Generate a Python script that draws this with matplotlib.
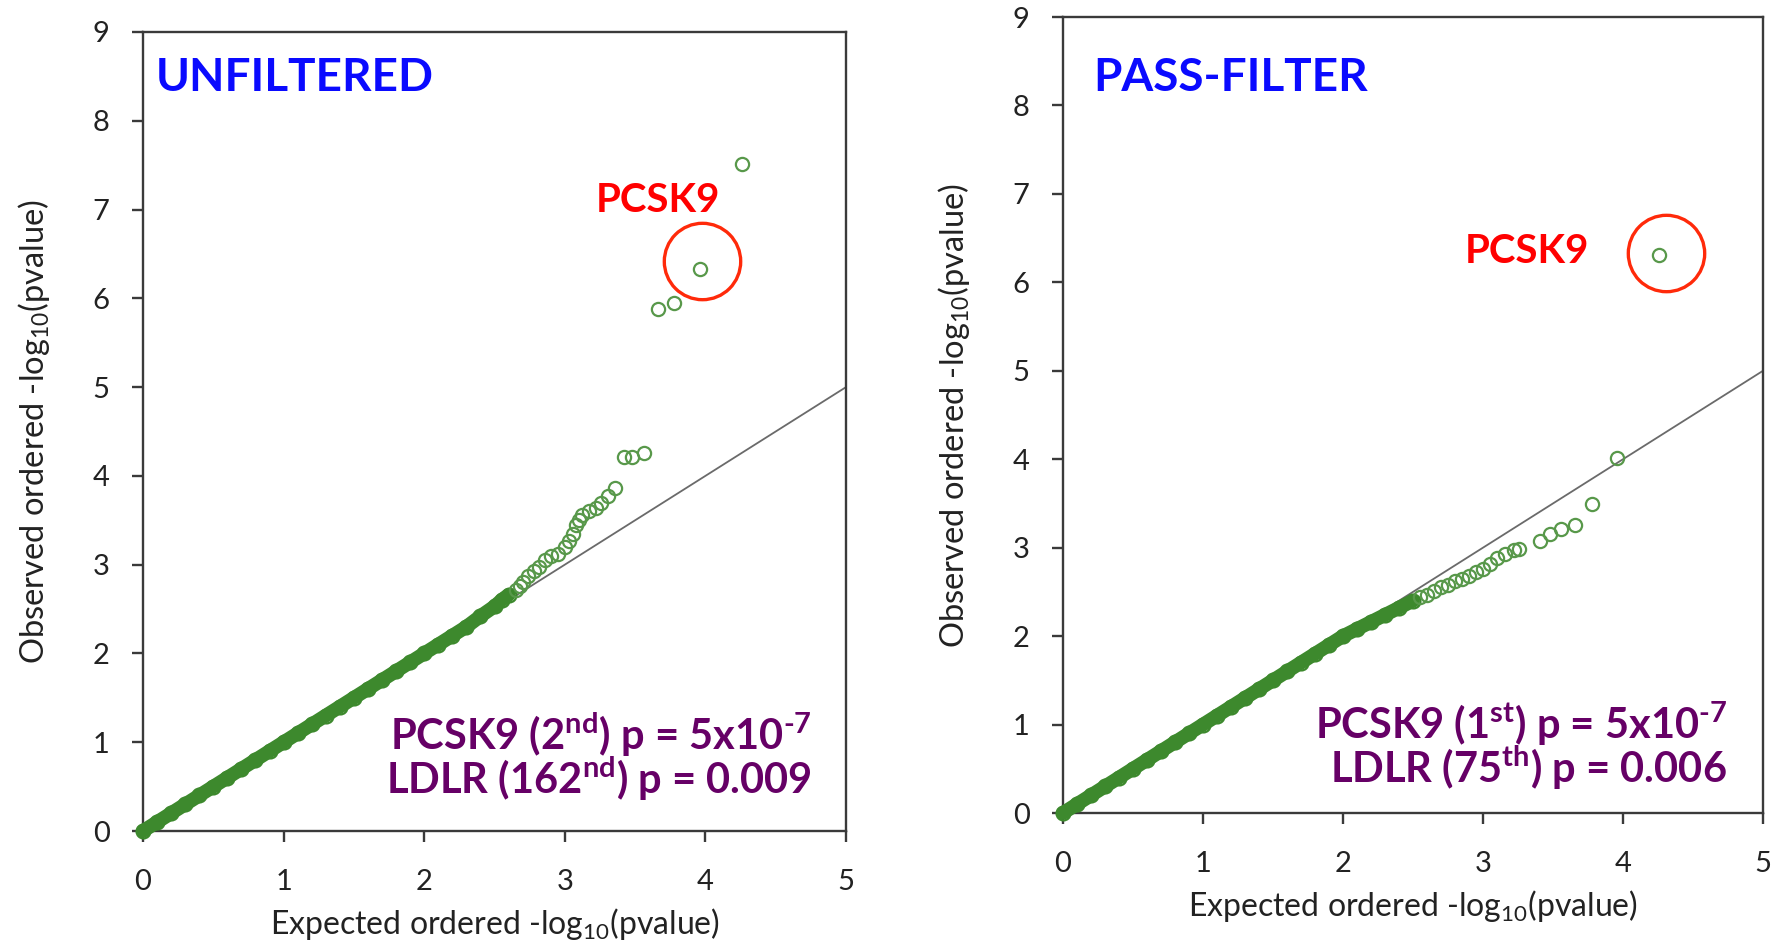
"""
QQ plots de p-values por gen: UNFILTERED vs PASS-FILTER.
PCSK9 marcado en rojo, resumen de rangos PCSK9 / LDLR abajo a la derecha.
"""

import matplotlib
matplotlib.use("Agg")
import matplotlib.pyplot as plt

plt.rcParams["font.family"] = ["Lato", "DejaVu Sans"]
plt.rcParams["mathtext.fontset"] = "custom"
plt.rcParams["mathtext.rm"] = "Lato"
plt.rcParams["mathtext.it"] = "Lato:italic"
plt.rcParams["mathtext.bf"] = "Lato:bold"

# ── Datos ──────────────────────────────────────────────────────────────────
# Panel izquierdo: UNFILTERED
left_body_exp = [0.0, 0.1, 0.2, 0.3, 0.4, 0.5, 0.6, 0.7, 0.8, 0.9, 1.0, 1.1,
                 1.2, 1.3, 1.4, 1.5, 1.6, 1.7, 1.8, 1.9, 2.0, 2.1, 2.2, 2.3,
                 2.4, 2.5, 2.55, 2.6]
left_body_obs = [0.0, 0.1, 0.2, 0.3, 0.4, 0.5, 0.6, 0.7, 0.8, 0.9, 1.0, 1.1,
                 1.2, 1.3, 1.4, 1.5, 1.6, 1.7, 1.8, 1.9, 2.0, 2.1, 2.2, 2.3,
                 2.42, 2.53, 2.6, 2.66]
left_tail_exp = [2.65, 2.68, 2.7, 2.74, 2.78, 2.82, 2.86, 2.9, 2.95, 3.0, 3.03,
                 3.06, 3.08, 3.1, 3.12, 3.17, 3.22, 3.26, 3.31, 3.36, 3.42,
                 3.48, 3.56, 3.66, 3.78, 3.96, 4.26]
left_tail_obs = [2.72, 2.76, 2.8, 2.87, 2.93, 2.97, 3.05, 3.1, 3.12, 3.2, 3.27,
                 3.35, 3.45, 3.5, 3.56, 3.6, 3.64, 3.69, 3.77, 3.86, 4.21,
                 4.21, 4.26, 5.88, 5.95, 6.33, 7.51]

# Panel derecho: PASS-FILTER
right_body_exp = [0.0, 0.1, 0.2, 0.3, 0.4, 0.5, 0.6, 0.7, 0.8, 0.9, 1.0, 1.1,
                  1.2, 1.3, 1.4, 1.5, 1.6, 1.7, 1.8, 1.9, 2.0, 2.1, 2.2, 2.3,
                  2.4, 2.5]
right_body_obs = [0.0, 0.1, 0.2, 0.3, 0.4, 0.5, 0.6, 0.7, 0.8, 0.9, 1.0, 1.1,
                  1.2, 1.3, 1.4, 1.5, 1.6, 1.7, 1.8, 1.9, 2.0, 2.08, 2.16,
                  2.24, 2.32, 2.4]
right_tail_exp = [2.55, 2.6, 2.65, 2.7, 2.75, 2.8, 2.85, 2.9, 2.95, 3.0, 3.05,
                  3.1, 3.16, 3.22, 3.26, 3.41, 3.48, 3.56, 3.66, 3.78, 3.96,
                  4.26]
right_tail_obs = [2.44, 2.47, 2.51, 2.55, 2.58, 2.62, 2.65, 2.68, 2.72, 2.76,
                  2.82, 2.88, 2.93, 2.97, 2.99, 3.08, 3.15, 3.21, 3.26, 3.49,
                  4.01, 6.31]

PANELS = [
    {
        "title": "UNFILTERED",
        "body": (left_body_exp, left_body_obs),
        "tail": (left_tail_exp, left_tail_obs),
        "circle": (3.973, 6.42),
        "rect": [143 / 1786, 117 / 948, 703 / 1786, 799 / 948],
        "title_xy": (0.018, 0.9265),
        "pcsk9_xy": (0.644, 0.775),
        "notes": "PCSK9 (2$^{\\mathbf{nd}}$) p = 5x10$^{\\mathbf{\u20107}}$\n"
                 "LDLR (162$^{\\mathbf{nd}}$) p = 0.009",
        "notes_xy": (0.952, 0.0463),
    },
    {
        "title": "PASS-FILTER",
        "body": (right_body_exp, right_body_obs),
        "tail": (right_tail_exp, right_tail_obs),
        "circle": (4.307, 6.335),
        "rect": [1063 / 1786, 135 / 948, 700 / 1786, 796 / 948],
        "title_xy": (0.0429, 0.9074),
        "pcsk9_xy": (0.5733, 0.6906),
        "notes": "PCSK9 (1$^{\\mathbf{st}}$) p = 5x10$^{\\mathbf{\u20107}}$\n"
                 "LDLR (75$^{\\mathbf{th}}$) p = 0.006",
        "notes_xy": (0.9486, 0.0377),
    },
]

GREEN = "#3d892d"
SPINE = "#3a3a3a"

fig = plt.figure(figsize=(17.86, 9.48), dpi=100)

for p in PANELS:
    ax = fig.add_axes(p["rect"])

    # Línea y = x
    ax.plot([0, 5], [0, 5], color="#6a6a6a", linewidth=1.3, zorder=2)

    # Cuerpo denso de puntos (banda)
    bx, by = p["body"]
    ax.plot(bx, by, color=GREEN, linewidth=10, solid_capstyle="round",
            zorder=3, clip_on=False)
    ax.plot(bx, by, linestyle="none", marker="o", markersize=10,
            markerfacecolor="none", markeredgecolor=GREEN,
            markeredgewidth=1.6, zorder=4, clip_on=False)

    # Cola
    tx, ty = p["tail"]
    ax.plot(tx, ty, linestyle="none", marker="o", markersize=9.5,
            markerfacecolor="none", markeredgecolor="#58984a",
            markeredgewidth=1.6, zorder=4)

    # Círculo rojo alrededor de PCSK9
    cx, cy = p["circle"]
    ax.plot([cx], [cy], linestyle="none", marker="o", markersize=55,
            markerfacecolor="none", markeredgecolor="#ff2a0a",
            markeredgewidth=2.4, zorder=5)

    ax.set_xlim(0, 5)
    ax.set_ylim(0, 9)
    ax.set_xticks(range(0, 6))
    ax.set_yticks(range(0, 10))

    for s in ax.spines.values():
        s.set_color(SPINE)
        s.set_linewidth(1.7)
    ax.tick_params(direction="out", length=8, width=1.7, color=SPINE,
                   labelsize=21, labelcolor="#222222")
    ax.tick_params(axis="y", pad=16)
    ax.tick_params(axis="x", pad=19)

    ax.set_xlabel("Expected ordered -log$_{10}$(pvalue)", fontsize=23,
                  color="#222222", labelpad=8)
    ax.set_ylabel("Observed ordered -log$_{10}$(pvalue)", fontsize=23.5,
                  color="#222222", labelpad=29)

    ax.text(*p["title_xy"], p["title"], transform=ax.transAxes,
            fontsize=33, fontweight="bold", color="#0a0aff",
            ha="left", va="baseline")
    ax.text(*p["pcsk9_xy"], "PCSK9", transform=ax.transAxes,
            fontsize=29, fontweight="bold", color="#ff0000",
            ha="left", va="baseline")
    ax.text(*p["notes_xy"], p["notes"], transform=ax.transAxes,
            fontsize=30, fontweight="bold", color="#660066",
            ha="right", va="baseline", multialignment="right",
            linespacing=0.9)

fig.savefig("out.png", dpi=100)
plt.close(fig)
